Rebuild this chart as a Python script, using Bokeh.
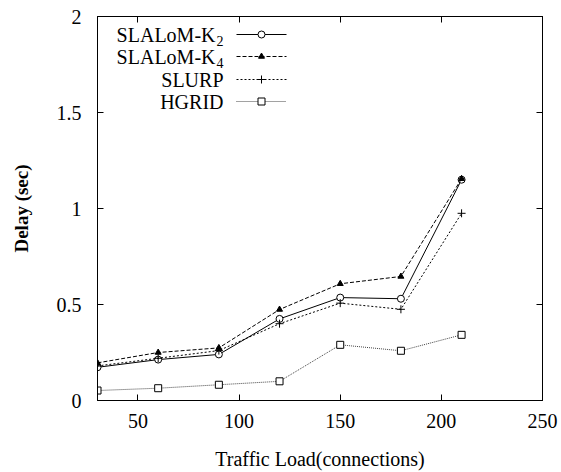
from bokeh.plotting import figure
from bokeh.models import LinearAxis, Range1d, FixedTicker, Label
from bokeh.embed import file_html
from bokeh.resources import INLINE

# ---- data ----
load = [30, 60, 90, 120, 150, 180, 210]
slalom_k2 = [0.173, 0.213, 0.240, 0.425, 0.536, 0.530, 1.150]
slalom_k4 = [0.196, 0.250, 0.274, 0.474, 0.608, 0.646, 1.155]
slurp = [0.180, 0.220, 0.260, 0.400, 0.507, 0.475, 0.975]
hgrid = [0.052, 0.064, 0.082, 0.100, 0.290, 0.259, 0.342]

x_ticks = [50, 100, 150, 200, 250]
y_ticks = [0, 0.5, 1, 1.5, 2]
y_tick_labels = {0: "0", 0.5: "0.5", 1: "1", 1.5: "1.5", 2: "2"}

FONT = "Liberation Serif"
W, H = 561, 472
L, R, T, B = 97, 19, 16, 72

p = figure(width=W, height=H, output_backend="svg", toolbar_location=None,
           x_range=Range1d(30, 250), y_range=Range1d(0, 2),
           min_border_left=L, min_border_right=R, min_border_top=T, min_border_bottom=B,
           x_axis_label="Traffic Load(connections)", y_axis_label="Delay (sec)")
p.grid.visible = False
p.outline_line_color = "black"
p.outline_line_width = 1
p.background_fill_color = "white"
p.border_fill_color = "white"

for ax in list(p.xaxis) + list(p.yaxis):
    ax.major_tick_in = 6
    ax.major_tick_out = 0
    ax.minor_tick_line_color = None
    ax.axis_line_color = "black"
    ax.major_tick_line_color = "black"
    ax.major_label_text_font = FONT
    ax.major_label_text_font_size = "20px"
    ax.major_label_text_color = "black"
    ax.axis_label_text_font = FONT
    ax.axis_label_text_color = "black"
    ax.axis_label_text_font_style = "normal"

p.xaxis.ticker = FixedTicker(ticks=x_ticks)
p.yaxis.ticker = FixedTicker(ticks=y_ticks)
p.yaxis.major_label_overrides = y_tick_labels
p.xaxis.major_label_standoff = 13
p.yaxis.major_label_standoff = 16
p.xaxis.axis_label_text_font_size = "20px"
p.xaxis.axis_label_standoff = 17
p.yaxis.axis_label_text_font_size = "19px"
p.yaxis.axis_label_text_font_style = "bold"
p.yaxis.axis_label_standoff = 22

# mirrored ticks on top and right (no labels)
top = LinearAxis(ticker=FixedTicker(ticks=x_ticks), major_tick_in=6, major_tick_out=0,
                 minor_tick_line_color=None, major_label_standoff=0,
                 major_label_overrides={t: "" for t in x_ticks}, axis_line_color="black")
right = LinearAxis(ticker=FixedTicker(ticks=y_ticks), major_tick_in=6, major_tick_out=0,
                   minor_tick_line_color=None, major_label_standoff=0,
                   major_label_overrides={t: "" for t in y_ticks}, axis_line_color="black")
p.add_layout(top, "above")
p.add_layout(right, "right")

# ---- series ----
p.line(load, slalom_k2, line_color="black", line_width=1)
p.scatter(load, slalom_k2, marker="circle", size=7, fill_color="white", line_color="black")

p.line(load, slalom_k4, line_color="black", line_width=1, line_dash="4 2")
p.scatter(load, slalom_k4, marker="triangle", size=6, fill_color="black", line_color="black")

p.line(load, slurp, line_color="black", line_width=1, line_dash="2 2")
p.scatter(load, slurp, marker="cross", size=8, line_color="black")

p.line(load, hgrid, line_color="#444444", line_width=1, line_dash="1 1")
p.scatter(load, hgrid, marker="square", size=7, fill_color="white", line_color="black")

# ---- legend (drawn manually, gnuplot style) ----
plot_w = W - L - R
plot_h = H - T - B
def dx(px):
    return 30 + (px - L) * 220.0 / plot_w
def dy(py):
    return (T + plot_h - py) * 2.0 / plot_h

text_right = 223
line_x0, line_x1, mark_x = 236, 286, 261
rows = [34, 56, 79, 101]
legend = [
    ("SLALoM-K", "2", dict(line_dash="solid"), dict(marker="circle", size=7, fill_color="white")),
    ("SLALoM-K", "4", dict(line_dash="4 2"), dict(marker="triangle", size=6, fill_color="black")),
    ("SLURP", None, dict(line_dash="2 2"), dict(marker="cross", size=8)),
    ("HGRID", None, dict(line_dash="1 1", line_color="#444444"), dict(marker="square", size=7, fill_color="white")),
]
for (name, sub, lstyle, mstyle), ry in zip(legend, rows):
    if sub:
        p.add_layout(Label(x=dx(text_right), y=dy(ry + 6), text=sub, text_align="right",
                           text_baseline="middle", text_font=FONT, text_font_size="14px",
                           text_color="black"))
        p.add_layout(Label(x=dx(text_right - 8), y=dy(ry), text=name, text_align="right",
                           text_baseline="middle", text_font=FONT, text_font_size="20px",
                           text_color="black"))
    else:
        p.add_layout(Label(x=dx(text_right), y=dy(ry), text=name, text_align="right",
                           text_baseline="middle", text_font=FONT, text_font_size="20px",
                           text_color="black"))
    lc = lstyle.pop("line_color", "black")
    p.line([dx(line_x0), dx(line_x1)], [dy(ry), dy(ry)], line_color=lc, line_width=1, **lstyle)
    p.scatter([dx(mark_x)], [dy(ry)], line_color="black", **mstyle)

open("out.html", "w").write(file_html(p, INLINE))
